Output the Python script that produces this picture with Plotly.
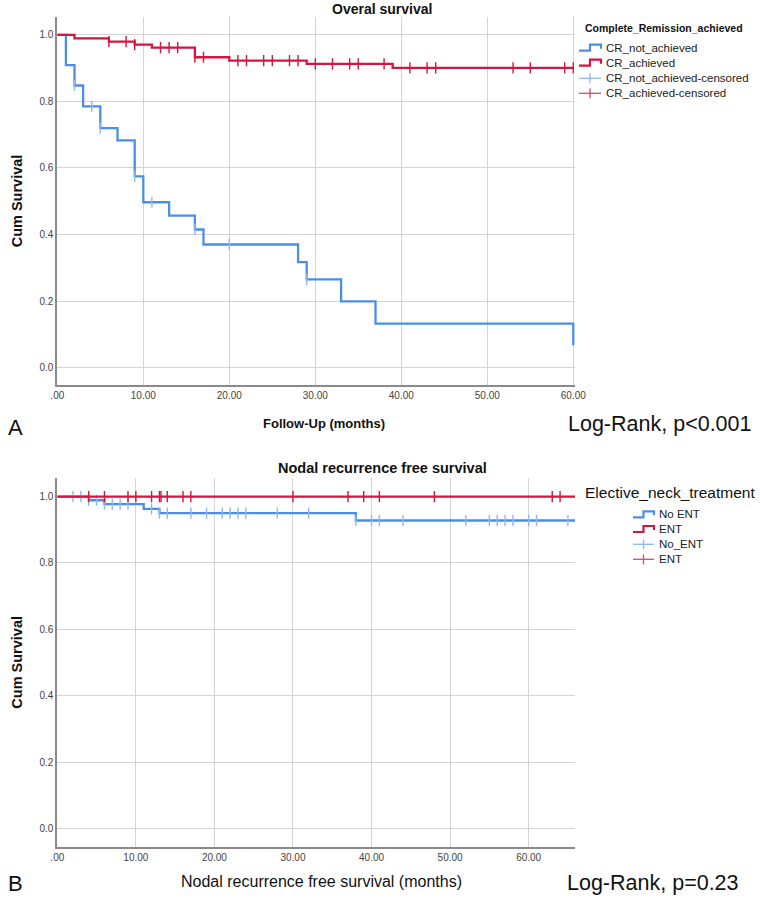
import numpy as np
import plotly.graph_objects as go

# ---------------- data ----------------
# Panel A: Overall survival by complete remission
cr_not_time = [0, 1, 2, 3, 5, 7, 9, 10, 13, 16, 17, 28, 29, 33, 37, 60]
cr_not_surv = [1.0, 0.909, 0.848, 0.785, 0.720, 0.683, 0.575, 0.497, 0.457,
               0.415, 0.370, 0.317, 0.265, 0.199, 0.132, 0.067]
cr_not_cens = [2, 4, 5, 9, 11, 16, 20, 29]

cr_time = [0, 2, 6, 9, 11, 16, 20, 29, 39, 60]
cr_surv = [1.0, 0.990, 0.980, 0.971, 0.962, 0.933, 0.923, 0.913, 0.901, 0.901]
cr_cens = [6, 8, 9, 12, 13, 14, 16, 17, 21, 22, 24, 25, 27, 28, 30, 32, 34, 35,
           38, 41, 43, 44, 53, 55, 59, 60]

# Panel B: Nodal recurrence free survival by elective neck treatment
noent_time = [0, 4, 6, 11, 13, 38, 66]
noent_surv = [1.0, 0.989, 0.977, 0.963, 0.950, 0.928, 0.928]
noent_cens = [2, 3, 4, 5, 6, 7, 8, 9, 12, 13, 14, 17, 19, 21, 22, 23, 24, 28, 32,
              38, 40, 41, 44, 52, 55, 56, 57, 58, 60, 61, 65]

ent_time = [0, 66]
ent_surv = [1.0, 1.0]
ent_cens = [4, 6, 9, 10, 12, 13, 13.2, 14, 16, 17, 30, 37, 39, 41, 48, 63, 64, 66]

y_ticks = [0.0, 0.2, 0.4, 0.6, 0.8, 1.0]
x_ticks_a = [0, 10, 20, 30, 40, 50, 60]
x_labels_a = [".00", "10.00", "20.00", "30.00", "40.00", "50.00", "60.00"]
x_ticks_b = [0, 10, 20, 30, 40, 50, 60]
x_labels_b = [".00", "10.00", "20.00", "30.00", "40.00", "50.00", "60.00"]

legend_a_title = "Complete_Remission_achieved"
legend_a_items = ["CR_not_achieved", "CR_achieved", "CR_not_achieved-censored", "CR_achieved-censored"]
legend_b_title = "Elective_neck_treatment"
legend_b_items = ["No ENT", "ENT", "No_ENT", "ENT"]

# ---------------- styling ----------------
W, H = 760, 899
BLUE = "#4A8FE4"
RED = "#D3153F"
LBLUE = "#8DB9F0"
LRED = "#DB4A6A"
GRID = "#D4D4D4"
AXIS = "#8A8A8A"
FONT = "Liberation Sans, Arial, sans-serif"


def px(x):
    return x / W


def py(y):
    return 1 - y / H


def step_value(times, surv, t):
    idx = np.searchsorted(np.array(times), t, side="right") - 1
    return np.array(surv)[idx]


fig = go.Figure()


def add_curve(times, surv, cens, color, ccolor, name, xa, ya):
    fig.add_trace(go.Scatter(x=times, y=surv, mode="lines", line=dict(color=color, width=2.3, shape="hv"),
                             name=name, showlegend=False, xaxis=xa, yaxis=ya))
    fig.add_trace(go.Scatter(x=cens, y=step_value(times, surv, cens), mode="markers",
                             marker=dict(symbol="line-ns", size=8, line=dict(color=ccolor, width=1.4)),
                             name=name + "-censored", showlegend=False, xaxis=xa, yaxis=ya))


add_curve(cr_not_time, cr_not_surv, cr_not_cens, BLUE, LBLUE, legend_a_items[0], "x", "y")
add_curve(cr_time, cr_surv, cr_cens, RED, RED, legend_a_items[1], "x", "y")
add_curve(noent_time, noent_surv, noent_cens, BLUE, LBLUE, legend_b_items[0], "x2", "y2")
add_curve(ent_time, ent_surv, ent_cens, RED, RED, legend_b_items[1], "x2", "y2")

xdom = [px(57.3), px(575)]
common_x = dict(showgrid=True, gridcolor=GRID, gridwidth=1, showline=True, linecolor=AXIS, linewidth=2,
                zeroline=False, ticks="", automargin=False,
                tickfont=dict(family=FONT, size=10, color="#444"), fixedrange=True)
common_y = dict(showgrid=True, gridcolor=GRID, gridwidth=1, showline=True, linecolor=AXIS, linewidth=2,
                zeroline=False, ticks="", tickvals=y_ticks, tickformat=".1f", automargin=False,
                tickfont=dict(family=FONT, size=10, color="#444"), fixedrange=True)

fig.update_layout(
    width=W, height=H, margin=dict(l=0, r=0, t=0, b=0, autoexpand=False),
    paper_bgcolor="white", plot_bgcolor="white", showlegend=False,
    xaxis=dict(common_x, domain=xdom, range=[0, 60.2], tickvals=x_ticks_a, ticktext=x_labels_a, anchor="y"),
    yaxis=dict(common_y, domain=[py(385), py(17)], range=[-0.0525, 1.054], anchor="x",
               title=dict(text="<b>Cum Survival</b>", font=dict(family=FONT, size=14.5, color="#111"), standoff=13)),
    xaxis2=dict(common_x, domain=xdom, range=[0, 65.9], tickvals=x_ticks_b, ticktext=x_labels_b, anchor="y2"),
    yaxis2=dict(common_y, domain=[py(846.7), py(478)], range=[-0.055, 1.056], anchor="x2",
                title=dict(text="<b>Cum Survival</b>", font=dict(family=FONT, size=14.5, color="#111"), standoff=13)),
)

ann = []
# panel A texts
ann.append(dict(text="<b>Overal survival</b>", x=px(382), y=py(9), font=dict(family=FONT, size=14, color="#111")))
ann.append(dict(text="A", x=px(15), y=py(427), font=dict(family=FONT, size=22, color="#111")))
ann.append(dict(text="<b>Follow-Up (months)</b>", x=px(324), y=py(423), font=dict(family=FONT, size=13, color="#111")))
ann.append(dict(text="Log-Rank, p<0.001", x=px(566), y=py(424), xanchor="left", font=dict(family=FONT, size=21.5, color="#111")))
# panel B texts
ann.append(dict(text="<b>Nodal recurrence free survival</b>", x=px(382), y=py(468), font=dict(family=FONT, size=14.5, color="#111")))
ann.append(dict(text="B", x=px(15), y=py(883), font=dict(family=FONT, size=22, color="#111")))
ann.append(dict(text="Nodal recurrence free survival (months)", x=px(321), y=py(881), font=dict(family=FONT, size=16, color="#111")))
ann.append(dict(text="Log-Rank, p=0.23", x=px(565), y=py(883), xanchor="left", font=dict(family=FONT, size=21.5, color="#111")))

shapes = []


def legend_block(title, title_font, title_pos, items, sym_x0, sym_x1, text_x, ys, item_size):
    ann.append(dict(text=title, x=px(title_pos[0]), y=py(title_pos[1]), xanchor="left", font=title_font))
    colors = [BLUE, RED, LBLUE, LRED]
    for i, (label, yy) in enumerate(zip(items, ys)):
        ann.append(dict(text=label, x=px(text_x), y=py(yy), xanchor="left",
                        font=dict(family=FONT, size=item_size, color="#222")))
        xm = (sym_x0 + sym_x1) / 2
        if i < 2:
            path = (f"M {px(sym_x0)} {py(yy + 3)} L {px(xm)} {py(yy + 3)} L {px(xm)} {py(yy - 3)} "
                    f"L {px(sym_x1)} {py(yy - 3)} L {px(sym_x1)} {py(yy + 1)}")
            shapes.append(dict(type="path", path=path, xref="paper", yref="paper",
                               line=dict(color=colors[i], width=2.2)))
        else:
            shapes.append(dict(type="line", x0=px(sym_x0), x1=px(sym_x1), y0=py(yy), y1=py(yy),
                               xref="paper", yref="paper", line=dict(color=colors[i], width=1.3)))
            shapes.append(dict(type="line", x0=px(xm), x1=px(xm), y0=py(yy - 5), y1=py(yy + 5),
                               xref="paper", yref="paper", line=dict(color=colors[i], width=1.3)))


legend_block("<b>" + legend_a_title + "</b>", dict(family=FONT, size=10.5, color="#111"), (583, 28),
             legend_a_items, 579, 601, 604, [47.7, 62.7, 78.3, 93.3], 11.5)
legend_block(legend_b_title, dict(family=FONT, size=15.5, color="#111"), (583, 492),
             legend_b_items, 633, 654, 657, [514.3, 529, 544.3, 559.3], 11.5)

for a in ann:
    a.setdefault("xref", "paper")
    a.setdefault("yref", "paper")
    a.setdefault("showarrow", False)
    a.setdefault("xanchor", "center")
    a.setdefault("yanchor", "middle")

fig.update_layout(annotations=ann, shapes=shapes)
fig.write_html("out.html", config={"displayModeBar": False},
               post_script="document.body.style.margin='0px';")
